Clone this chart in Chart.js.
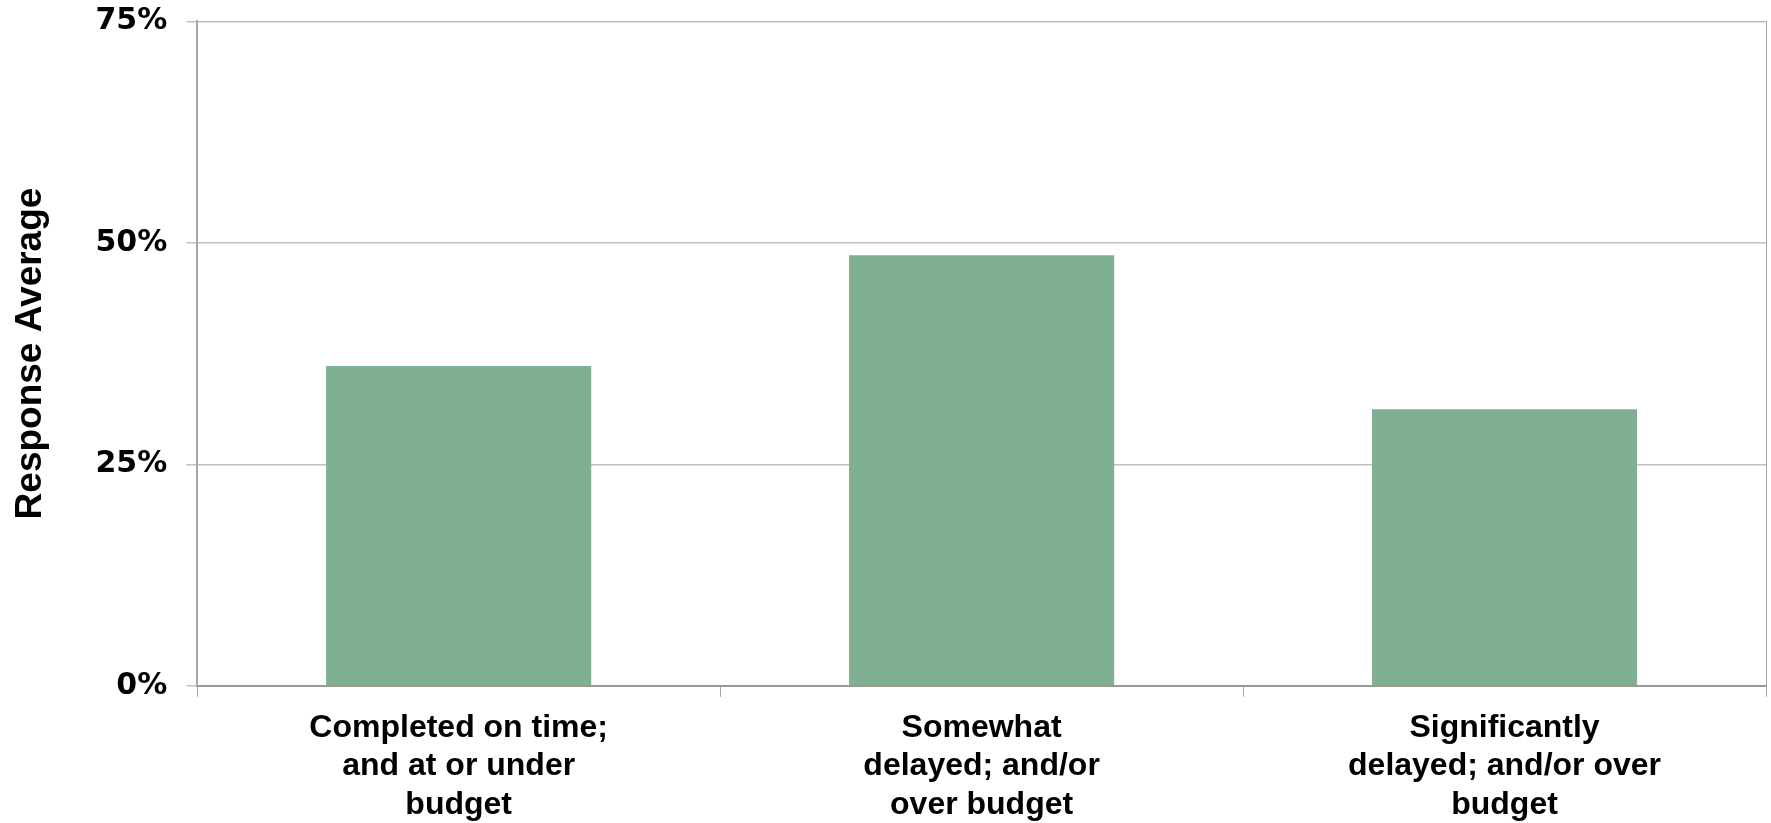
<!DOCTYPE html>
<html>
<head>
<meta charset="utf-8">
<script src="https://cdn.jsdelivr.net/npm/chart.js@4"></script>
<style>
  html, body { margin: 0; padding: 0; background: #ffffff; }
  #wrap { width: 1771px; height: 823px; position: relative; }
</style>
</head>
<body>
<div id="wrap"><canvas id="myChart"></canvas></div>
<script>
// category labels, one array per multi-line label
const categories = [
    ['Completed on time;', 'and at or under', 'budget'],
    ['Somewhat', 'delayed; and/or', 'over budget'],
    ['Significantly', 'delayed; and/or over', 'budget']
];
const responseAverage = [36.1, 48.6, 31.2];
const yTicks = [0, 25, 50, 75];

// outline the right edge of the plot area like the original
const plotBorder = {
    id: 'plotBorder',
    afterDraw(chart) {
        const { ctx, chartArea } = chart;
        ctx.save();
        ctx.strokeStyle = '#a6a6a6';
        ctx.lineWidth = 1;
        ctx.beginPath();
        ctx.moveTo(chartArea.right + 0.5, chartArea.top);
        ctx.lineTo(chartArea.right + 0.5, chartArea.bottom);
        ctx.stroke();
        ctx.restore();
    }
};

function mainEvent() {
    const ctx = document.querySelector('#myChart');

    new Chart(ctx, {
        type: 'bar',
        data: {
            labels: categories,
            datasets: [{
                label: 'Response Average',
                data: responseAverage,
                backgroundColor: '#80b092',
                borderWidth: 0,
                categoryPercentage: 1,
                barPercentage: 0.507
            }]
        },
        options: {
            responsive: true,
            maintainAspectRatio: false,
            animation: false,
            layout: { padding: { top: 0, right: 5, left: 9, bottom: -13 } },
            plugins: {
                legend: { display: false },
                tooltip: { enabled: false }
            },
            scales: {
                x: {
                    grid: {
                        offset: true,
                        drawOnChartArea: false,
                        drawTicks: true,
                        tickLength: 11,
                        color: '#a6a6a6'
                    },
                    border: { color: '#999999', width: 2 },
                    ticks: {
                        color: '#000000',
                        padding: 12,
                        maxRotation: 0,
                        autoSkip: false,
                        font: { family: '"Liberation Sans", Arial, sans-serif', size: 32, weight: 'bold', lineHeight: 1.2 }
                    }
                },
                y: {
                    min: 0,
                    max: 75,
                    afterBuildTicks(axis) {
                        axis.ticks = yTicks.map(v => ({ value: v }));
                    },
                    grid: {
                        color: '#c0c0c0',
                        lineWidth: 1.5,
                        tickLength: 11,
                        drawTicks: true
                    },
                    border: { color: '#a6a6a6', width: 2 },
                    ticks: {
                        color: '#000000',
                        padding: 19,
                        callback: v => v + '%',
                        font: { family: '"DejaVu Sans", sans-serif', size: 30, weight: 'bold', lineHeight: 0.15 }
                    },
                    title: {
                        display: true,
                        text: 'Response Average',
                        color: '#000000',
                        padding: { top: 0, bottom: 23 },
                        font: { family: '"Liberation Sans", Arial, sans-serif', size: 37, weight: 'bold' }
                    }
                }
            }
        },
        plugins: [plotBorder]
    });
}

document.addEventListener('DOMContentLoaded', () => mainEvent());
</script>
</body>
</html>
